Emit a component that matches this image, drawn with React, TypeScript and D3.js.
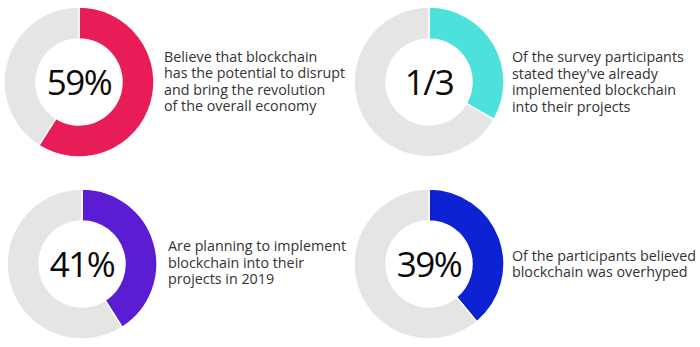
import React from "react";
import * as d3 from "d3";

const values = [59, 100 / 3, 41, 39];
const labels = ["59%", "1/3", "41%", "39%"];
const colors = ["#E81C57", "#4DE1DB", "#5A1DD3", "#0D22D3"];
const captions = [
  ["Believe that blockchain", "has the potential to disrupt", "and bring the revolution", "of the overall economy"],
  ["Of the survey participants", "stated they've already", "implemented blockchain", "into their projects"],
  ["Are planning to implement", "blockchain into their", "projects in 2019"],
  ["Of the participants believed", "blockchain was overhyped"],
];
const centers = [
  [79, 82],
  [429, 82],
  [82, 264],
  [429, 264],
];
const textPos = [
  [164, 61.5],
  [512, 62],
  [168, 251],
  [512, 260.5],
];

const W = 700;
const H = 347;
const outerR = 75;
const innerR = 43;
const lineGap = 16.5;

export default function App() {
  const arc = d3.arc<any>().innerRadius(innerR).outerRadius(outerR);
  const pie = d3.pie<number>().sort(null).value((d) => d);
  return (
    <svg
      width={W}
      height={H}
      style={{ position: "absolute", left: 0, top: 0, background: "#fff" }}
    >
      <rect width={W} height={H} fill="#fff" />
      {values.map((v, i) => {
        const arcs = pie([v, 100 - v]);
        const [cx, cy] = centers[i];
        return (
          <g key={i}>
            <g transform={`translate(${cx},${cy})`}>
              {arcs.map((a, j) => (
                <path
                  key={j}
                  d={arc(a) as string}
                  fill={j === 0 ? colors[i] : "#E5E5E5"}
                  stroke="#fff"
                  strokeWidth={1.5}
                />
              ))}
              <text
                x={0}
                y={13}
                textAnchor="middle"
                fontFamily="'Open Sans', sans-serif"
                fontSize={35}
                fontWeight={500}
                fill="#0a0a0a"
                letterSpacing={-1.5}
              >
                {labels[i]}
              </text>
            </g>
            {captions[i].map((line, k) => (
              <text
                key={k}
                x={textPos[i][0]}
                y={textPos[i][1] + k * lineGap}
                fontFamily="'Open Sans', sans-serif"
                fontSize={14.3}
                fill="#333"
              >
                {line}
              </text>
            ))}
          </g>
        );
      })}
    </svg>
  );
}
